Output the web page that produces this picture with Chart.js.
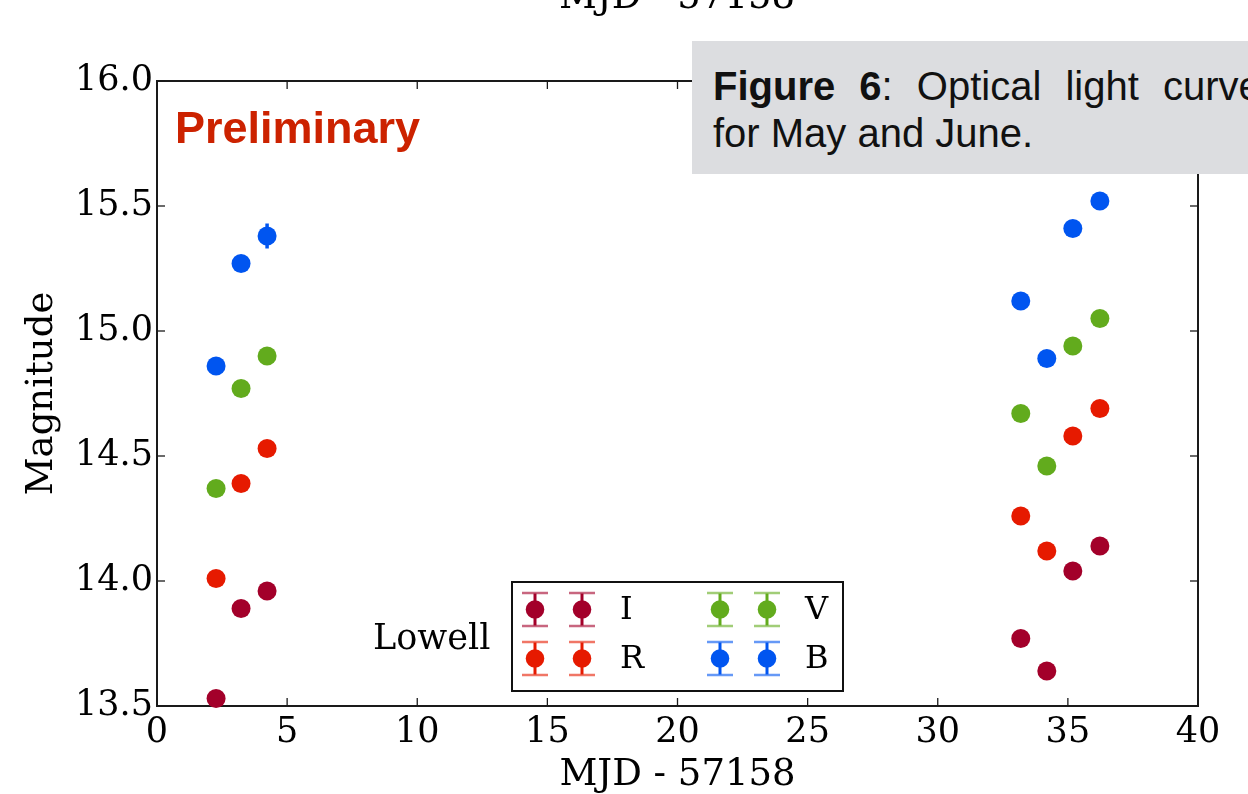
<!DOCTYPE html>
<html>
<head>
<meta charset="utf-8">
<script src="https://cdn.jsdelivr.net/npm/chart.js@4.4.1/dist/chart.umd.min.js"></script>
<style>
  html, body { margin: 0; padding: 0; background: #fff; }
  #wrap { position: relative; width: 1248px; height: 794px; overflow: hidden; }
  #chart { position: absolute; left: 0; top: 0; }
  .serif { position: absolute; font-family: 'DejaVu Serif', serif; color: #000; white-space: nowrap; line-height: 1; }
  #toptitle { left: 457px; width: 440px; top: -23px; font-size: 37px; text-align: center; }
  #lowell { left: 373px; top: 620px; font-size: 35px; }
  #prelim { position: absolute; left: 175px; top: 105px; font: bold 45px 'Liberation Sans', Arial, sans-serif; line-height: 1; color: #cc2200; white-space: nowrap; }
  #caption { position: absolute; left: 692px; top: 41px; width: 600px; height: 133px; background: #dcdde0;
             box-sizing: border-box; padding: 22px 0 0 21px; font: 40px 'Liberation Sans', Arial, sans-serif; line-height: 47px; color: #111; white-space: nowrap; }
  #caption .l1 { word-spacing: 13px; }
</style>
</head>
<body>
<div id="wrap">
  <canvas id="chart" width="1248" height="794"></canvas>
  <div id="toptitle" class="serif">MJD - 57158</div>
  <div id="prelim">Preliminary</div>
  <div id="lowell" class="serif">Lowell</div>
  <div id="caption">
    <div class="l1"><b>Figure 6</b>: Optical light curve</div>
    <div>for May and June.</div>
  </div>
</div>
<script>
// observing epochs, MJD - 57158
const epochs = [2.27, 3.23, 4.23, 33.19, 34.19, 35.19, 36.23];

// magnitudes per filter
const magI = [13.53, 13.89, 13.96, 13.77, 13.64, 14.04, 14.14];
const magR = [14.01, 14.39, 14.53, 14.26, 14.12, 14.58, 14.69];
const magV = [14.37, 14.77, 14.90, 14.67, 14.46, 14.94, 15.05];
const magB = [14.86, 15.27, 15.38, 15.12, 14.89, 15.41, 15.52];

// errors (mostly hidden under the markers)
const errI = [0.02, 0.02, 0.02, 0.02, 0.02, 0.02, 0.02];
const errR = [0.02, 0.02, 0.02, 0.02, 0.02, 0.02, 0.02];
const errV = [0.02, 0.02, 0.02, 0.02, 0.02, 0.02, 0.02];
const errB = [0.02, 0.025, 0.05, 0.02, 0.02, 0.02, 0.02];

const bandNames = ['I', 'R', 'V', 'B'];
const bandMags = [magI, magR, magV, magB];
const bandErrs = [errI, errR, errV, errB];
const bandColors = ['#a3002a', '#e61a00', '#62ab1d', '#0055f0'];

const xTicks = [0, 5, 10, 15, 20, 25, 30, 35, 40];
const yTicks = [13.5, 14.0, 14.5, 15.0, 15.5, 16.0];

const SERIF = "'DejaVu Serif', serif";

const datasets = bandNames.map((name, i) => ({
  label: name,
  data: epochs.map((t, j) => ({ x: t, y: bandMags[i][j] })),
  errors: bandErrs[i],
  backgroundColor: bandColors[i],
  borderColor: bandColors[i],
  borderWidth: 0,
  pointRadius: 9.5,
  pointHoverRadius: 9.5,
  clip: false
}));

function line(ctx, x1, y1, x2, y2) {
  ctx.beginPath();
  ctx.moveTo(x1, y1);
  ctx.lineTo(x2, y2);
  ctx.stroke();
}

const framePlugin = {
  id: 'frame',
  beforeDatasetsDraw(chart) {
    const { ctx, chartArea: a, scales: { x, y } } = chart;
    ctx.save();
    ctx.strokeStyle = '#1a1a1a';
    ctx.lineWidth = 2;
    ctx.strokeRect(a.left, a.top, a.right - a.left, a.bottom - a.top);
    // inward ticks on all four sides
    ctx.lineWidth = 1.3;
    x.ticks.forEach(t => {
      const px = x.getPixelForValue(t.value);
      line(ctx, px, a.bottom, px, a.bottom - 8);
      line(ctx, px, a.top, px, a.top + 8);
    });
    y.ticks.forEach(t => {
      const py = y.getPixelForValue(t.value);
      line(ctx, a.left, py, a.left + 8, py);
      line(ctx, a.right, py, a.right - 8, py);
    });
    // error bars
    ctx.lineWidth = 3.5;
    chart.data.datasets.forEach(ds => {
      ctx.strokeStyle = ds.borderColor;
      ds.data.forEach((p, j) => {
        const e = ds.errors[j];
        const px = x.getPixelForValue(p.x);
        line(ctx, px, y.getPixelForValue(p.y - e), px, y.getPixelForValue(p.y + e));
      });
    });
    ctx.restore();
  },
  afterDraw(chart) {
    const { ctx } = chart;
    ctx.save();
    // legend box
    ctx.fillStyle = '#fff';
    ctx.fillRect(512, 582, 331, 109);
    ctx.strokeStyle = '#111';
    ctx.lineWidth = 2;
    ctx.strokeRect(512, 582, 331, 109);
    const cols = [[535, 582, 620], [720, 767, 805]];
    const rows = [609.5, 658.5];
    chart.data.datasets.forEach((ds, i) => {
      const c = cols[Math.floor(i / 2)];
      const cy = rows[i % 2];
      [c[0], c[1]].forEach(cx => {
        ctx.strokeStyle = ds.borderColor;
        ctx.globalAlpha = 1;
        ctx.lineWidth = 3;
        line(ctx, cx, cy - 16, cx, cy + 16);
        ctx.globalAlpha = 0.6;
        ctx.lineWidth = 2.5;
        line(ctx, cx - 13, cy - 16.5, cx + 13, cy - 16.5);
        line(ctx, cx - 13, cy + 16.5, cx + 13, cy + 16.5);
        ctx.globalAlpha = 1;
        ctx.fillStyle = ds.backgroundColor;
        ctx.beginPath();
        ctx.arc(cx, cy, 9.3, 0, Math.PI * 2);
        ctx.fill();
      });
      ctx.fillStyle = '#000';
      ctx.font = '32px ' + SERIF;
      ctx.textBaseline = 'middle';
      ctx.textAlign = 'left';
      ctx.fillText(ds.label, c[2], cy + 1);
    });
    ctx.restore();
  }
};

new Chart(document.getElementById('chart'), {
  type: 'scatter',
  data: { datasets },
  plugins: [framePlugin],
  options: {
    responsive: false,
    devicePixelRatio: 1,
    animation: false,
    events: [],
    layout: { padding: { top: 81, right: 50, left: 0, bottom: 0 } },
    plugins: { legend: { display: false }, tooltip: { enabled: false } },
    scales: {
      x: {
        type: 'linear',
        min: 0,
        max: 40,
        afterFit: s => { s.height = 88; },
        afterBuildTicks: s => { s.ticks = xTicks.map(v => ({ value: v })); },
        grid: { display: false, drawTicks: false },
        border: { display: false },
        ticks: { color: '#000', padding: 6, maxRotation: 0, font: { family: SERIF, size: 35 } },
        title: { display: true, text: 'MJD - 57158', color: '#000', padding: { top: 0, bottom: 0 }, font: { family: SERIF, size: 37, lineHeight: 1 } }
      },
      y: {
        type: 'linear',
        min: 13.5,
        max: 16.0,
        afterFit: s => { s.width = 157; },
        afterBuildTicks: s => { s.ticks = yTicks.map(v => ({ value: v })); },
        grid: { display: false, drawTicks: false },
        border: { display: false },
        ticks: { color: '#000', padding: 4, callback: v => v.toFixed(1), font: { family: SERIF, size: 35 } },
        title: { display: true, text: 'Magnitude', color: '#000', padding: { top: 20, bottom: 0 }, font: { family: SERIF, size: 37 } }
      }
    }
  }
});
</script>
</body>
</html>
